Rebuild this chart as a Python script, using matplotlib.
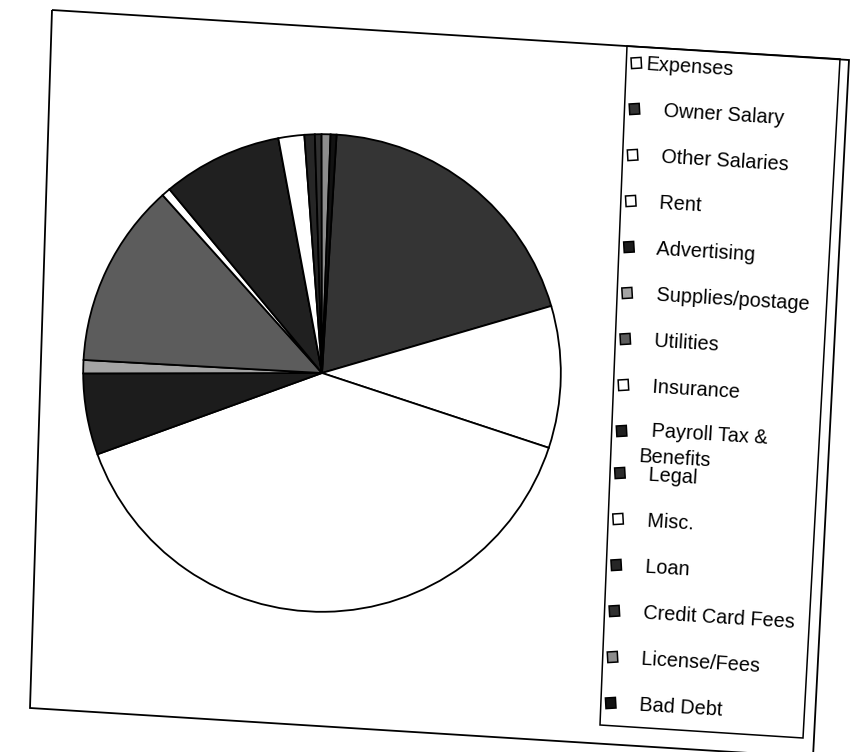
import matplotlib
matplotlib.use("Agg")
import matplotlib.pyplot as plt
from matplotlib.patches import Polygon

plt.rcParams['font.family'] = ['Liberation Sans', 'DejaVu Sans']

# expense share per category, in percent of the total
labels = ["Expenses", "Owner Salary", "Other Salaries", "Rent", "Advertising",
          "Supplies/postage", "Utilities", "Insurance", "Payroll Tax &\nBenefits",
          "Legal", "Misc.", "Loan", "Credit Card Fees", "License/Fees", "Bad Debt"]
shares = [0.0, 19.5, 9.6, 39.4, 5.5,
          0.9, 12.5, 0.6, 8.1,
          0.0, 1.75, 0.7, 0.45, 0.6, 0.4]
# greys standing in for the printed halftone patterns
greys = ["#ffffff", "#343434", "#ffffff", "#ffffff", "#1c1c1c",
         "#a4a4a4", "#5c5c5c", "#ffffff", "#202020",
         "#2c2c2c", "#ffffff", "#262626", "#303030", "#8c8c8c", "#121212"]

W, H = 856, 752
tilt = 3.5   # the page was scanned a little crooked

fig = plt.figure(figsize=(W / 100, H / 100), dpi=100)

# pie, centre (322,373) px, radius 240 px
cx, cy, r = 322, 373, 240
ax = fig.add_axes([(cx - r) / W, 1 - (cy + r) / H, 2 * r / W, 2 * r / H])
ax.pie(shares, colors=greys, startangle=90 - tilt, counterclock=False,
       wedgeprops=dict(edgecolor="black", linewidth=1.3))
ax.set_xlim(-1.005, 1.005)
ax.set_ylim(-1.005, 1.005)
ax.set_aspect("equal")
ax.axis("off")

# overlay in pixel coordinates for frame and legend
ov = fig.add_axes([0, 0, 1, 1], zorder=3)
ov.set_xlim(0, W)
ov.set_ylim(H, 0)
ov.axis("off")
ov.patch.set_alpha(0)

frame = Polygon([(52, 10), (849, 60), (813, 757), (30, 708)], closed=True,
                fill=False, edgecolor="black", linewidth=1.3)
ov.add_patch(frame)
box = Polygon([(627, 46), (840, 59), (803, 738), (600, 725)], closed=True,
              fill=False, edgecolor="black", linewidth=1.1)
ov.add_patch(box)

fs = 14.3
for i, (lab, col) in enumerate(zip(labels, greys)):
    y = 63 + 46 * i
    if i >= 9:
        y -= 4
    x = 636 - 0.04 * (y - 63)
    s = 5
    ov.add_patch(Polygon([(x - s, y - s), (x + s, y - s - 0.6), (x + s + 0.6, y + s), (x - s + 0.6, y + s + 0.6)],
                         closed=True, facecolor=col, edgecolor="black", linewidth=1.1))
    txt = lab if i == 0 else "  " + lab
    nlines = lab.count("\n")
    ov.text(x + (10 if i == 0 else 18), y + 7 + 17 * nlines, txt, fontsize=fs,
            rotation=-tilt, rotation_mode="anchor", ha="left", va="baseline",
            linespacing=1.5)

fig.savefig("out.png", dpi=100, facecolor="white")
